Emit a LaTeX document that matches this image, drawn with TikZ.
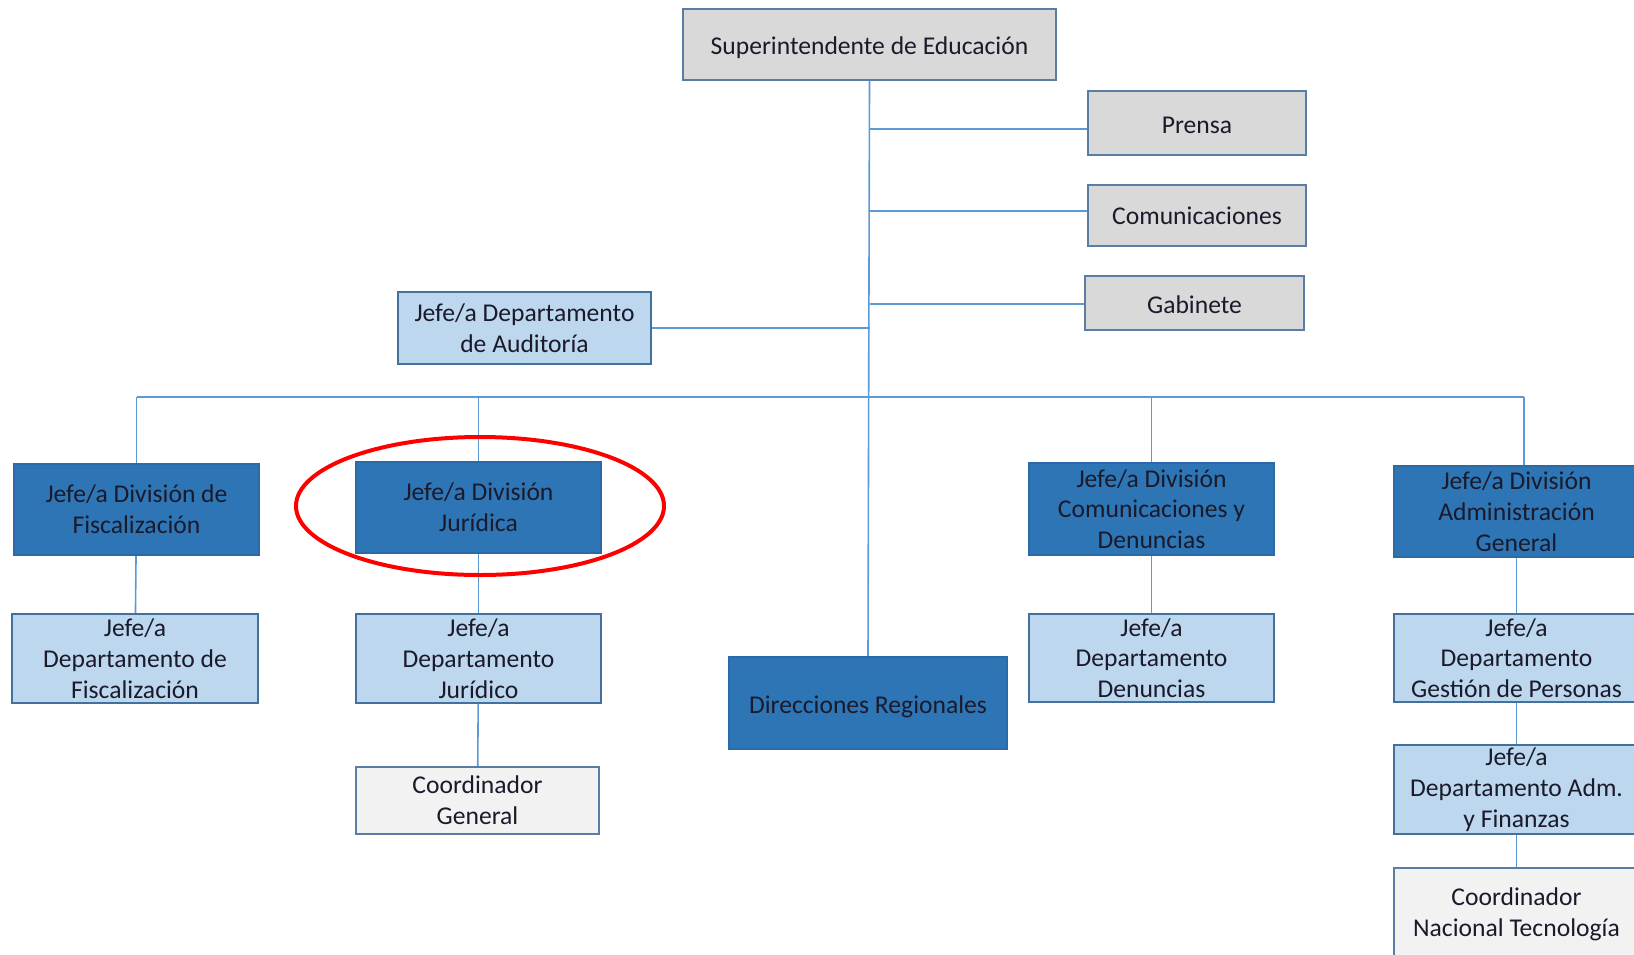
\documentclass[tikz,border=0pt]{standalone}
\usepackage{fontspec}
\setmainfont{Carlito}
\definecolor{lineblue}{HTML}{5B9BD5}
\definecolor{darkblue}{HTML}{2E75B6}
\definecolor{darkblueb}{HTML}{2A6AA6}
\definecolor{lightblue}{HTML}{BDD7EE}
\definecolor{lbborder}{HTML}{41719C}
\definecolor{grayfill}{HTML}{D9D9D9}
\definecolor{grayborder}{HTML}{5A7DA3}
\definecolor{palefill}{HTML}{F2F2F2}
\definecolor{txt}{HTML}{1A1A2A}
\newcommand{\dropby}[2]{\raisebox{-#1}[\height][\depth]{#2}}
\tikzset{
  box/.style={rectangle, inner sep=0pt, align=center, line width=0.8pt, text=txt,
    font=\fontsize{12.8pt}{15.4pt}\selectfont},
  graybox/.style={box, fill=grayfill, draw=grayborder},
  lightbox/.style={box, fill=lightblue, draw=lbborder},
  darkbox/.style={box, fill=darkblue, draw=darkblueb},
  palebox/.style={box, fill=palefill, draw=grayborder},
  conn/.style={draw=lineblue, line width=0.8pt},
  mark ellipse/.style={draw=red, line width=2pt}
}
\begin{document}
\begin{tikzpicture}[x=0.5pt,y=-0.5pt]
\useasboundingbox (0,0) rectangle (1634,954);
% top level
\node[graybox, minimum width=186.5pt, minimum height=35.5pt] (sup) at (869.5,44.5) {\dropby{1.5pt}{Superintendente de Educación}};
\node[graybox, minimum width=109pt, minimum height=32pt] (prensa) at (1197,123) {\dropby{1pt}{Prensa}};
\node[graybox, minimum width=109pt, minimum height=30.5pt] (comu) at (1197,215.5) {Comunicaciones};
\node[graybox, minimum width=109.5pt, minimum height=27pt] (gab) at (1194.5,303) {\dropby{1pt}{Gabinete}};
\node[lightbox, minimum width=126.5pt, minimum height=36pt] (aud) at (524.5,328) {Jefe/a Departamento\\de Auditoría};
% divisions
\node[darkbox, minimum width=122.5pt, minimum height=45.5pt] (divF) at (136.5,509.5) {Jefe/a División de\\Fiscalización};
\node[darkbox, minimum width=122.5pt, minimum height=45.5pt] (divJ) at (478.5,507.5) {Jefe/a División\\Jurídica};
\node[darkbox, minimum width=122.5pt, minimum height=46pt] (divC) at (1151.5,509) {Jefe/a División\\Comunicaciones y\\Denuncias};
\node[darkbox, minimum width=122.5pt, minimum height=45.5pt] (divA) at (1516.5,511.5) {Jefe/a División\\Administración\\General};
% departments
\node[lightbox, minimum width=123pt, minimum height=44.5pt] (depF) at (135,658.5) {Jefe/a\\Departamento de\\Fiscalización};
\node[lightbox, minimum width=122.5pt, minimum height=44.5pt] (depJ) at (478.5,658.5) {Jefe/a\\Departamento\\Jurídico};
\node[darkbox, minimum width=139pt, minimum height=46pt] (dir) at (868,703) {\dropby{2pt}{Direcciones Regionales}};
\node[lightbox, minimum width=122.5pt, minimum height=44pt] (depD) at (1151.5,658) {Jefe/a\\Departamento\\Denuncias};
\node[lightbox, minimum width=122.5pt, minimum height=44pt] (depG) at (1516.5,658) {Jefe/a\\Departamento\\Gestión de Personas};
\node[lightbox, minimum width=122.5pt, minimum height=44.5pt] (depAF) at (1516.5,789.5) {Jefe/a\\Departamento Adm.\\y Finanzas};
\node[palebox, minimum width=122.5pt, minimum height=46pt] (coordN) at (1516.5,914) {Coordinador\\Nacional Tecnología};
\node[palebox, minimum width=121.5pt, minimum height=33.5pt] (coordG) at (477.5,800.5) {Coordinador\\General};
% connectors
\coordinate (busL) at (137,397);
\coordinate (busR) at (1524,397);
\draw[conn] (sup.south) -- (dir.north);
\draw[conn] (prensa.west |- 0,129) -- (sup.south |- 0,129);
\draw[conn] (comu.west |- 0,211) -- (sup.south |- 0,211);
\draw[conn] (gab.west |- 0,304) -- (sup.south |- 0,304);
\draw[conn] (aud.east) -- (aud.east -| sup.south);
\draw[conn] (busL) -- (busR);
\draw[conn] (divF.north) -- (divF.north |- busL);
\draw[conn] (divJ.north) -- (divJ.north |- busL);
\draw[conn] (divC.north) -- (divC.north |- busL);
\draw[conn] (busR) -- (busR |- divA.north);
\draw[conn] (divF) -- (depF);
\draw[conn] (divJ) -- (depJ);
\draw[conn] (depJ) -- (coordG);
\draw[conn] (divC) -- (depD);
\draw[conn] (divA) -- (depG);
\draw[conn] (depG) -- (depAF);
\draw[conn] (depAF) -- (coordN);
% highlight
\draw[mark ellipse] (divJ.center) ++(1.5,-1.5) ellipse [x radius=92pt, y radius=34.5pt];
\end{tikzpicture}
\end{document}
